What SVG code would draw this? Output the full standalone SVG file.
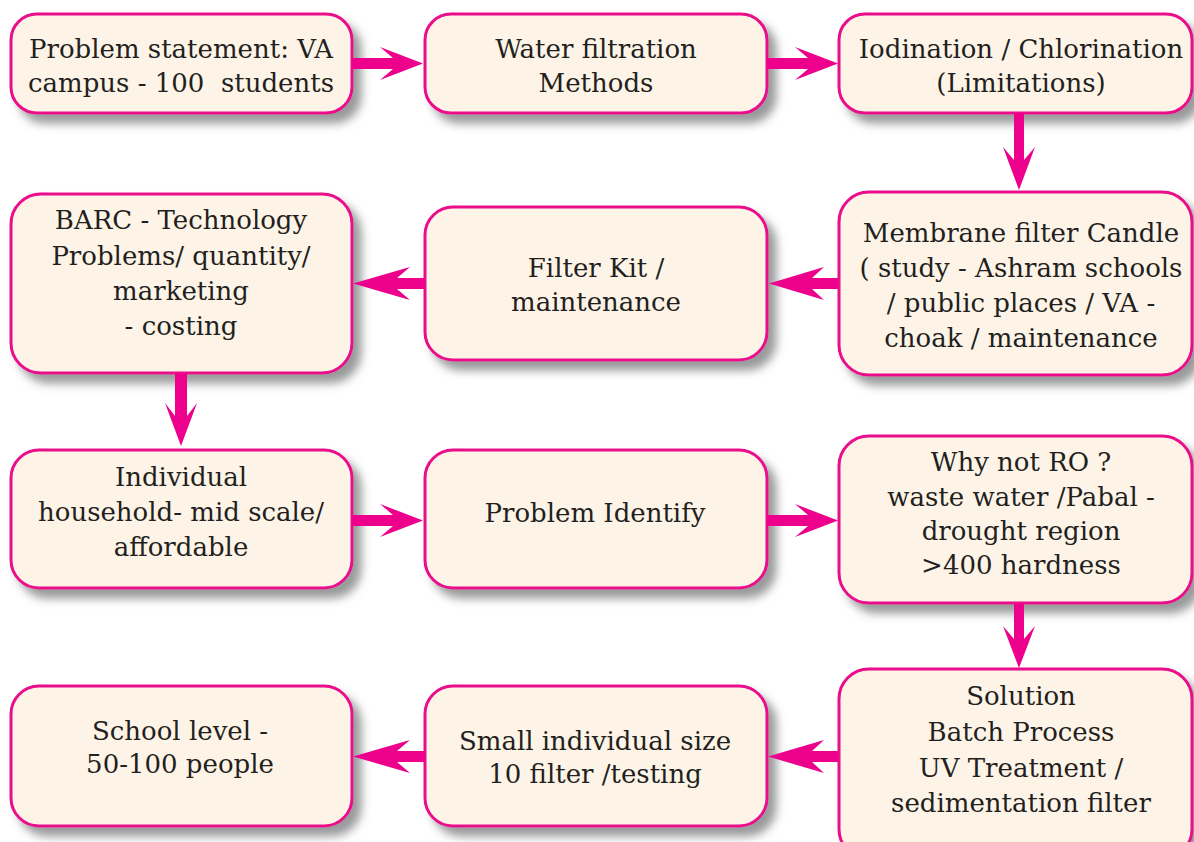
<svg xmlns="http://www.w3.org/2000/svg" width="1194" height="842" viewBox="0 0 1194 842">
<defs>
<filter id="sh" x="-10%" y="-10%" width="130%" height="140%">
<feDropShadow dx="8" dy="9" stdDeviation="5" flood-color="#6d6e71" flood-opacity="0.7"/>
</filter>
</defs>
<style>
.box{fill:#fdf4e7;stroke:#ea0a8c;stroke-width:3;filter:url(#sh)}
.t{font-family:"DejaVu Serif","Liberation Serif",serif;font-size:26px;fill:#231f20;text-anchor:middle}
.ar{fill:#ec008c}
</style>
<rect width="1194" height="842" fill="#ffffff"/>
<g id="n1"><rect class="box" x="11" y="14" width="341" height="99" rx="26"/>
<text class="t" x="181" y="58">Problem statement: VA</text>
<text class="t" x="181" y="92" xml:space="preserve">campus - 100  students</text></g>
<g id="n2"><rect class="box" x="425" y="14" width="342" height="99" rx="26"/>
<text class="t" x="596" y="58">Water filtration</text>
<text class="t" x="596" y="92">Methods</text></g>
<g id="n3"><rect class="box" x="839" y="14" width="353" height="99" rx="26"/>
<text class="t" x="1021" y="58">Iodination / Chlorination</text>
<text class="t" x="1021" y="92">(Limitations)</text></g>
<g id="n4"><rect class="box" x="839" y="192" width="353" height="183" rx="30"/>
<text class="t" x="1021" y="242">Membrane filter Candle</text>
<text class="t" x="1021" y="277">( study - Ashram schools</text>
<text class="t" x="1021" y="312">/ public places / VA -</text>
<text class="t" x="1021" y="347">choak / maintenance</text></g>
<g id="n5"><rect class="box" x="425" y="207" width="342" height="153" rx="28"/>
<text class="t" x="596" y="277">Filter Kit /</text>
<text class="t" x="596" y="311">maintenance</text></g>
<g id="n6"><rect class="box" x="11" y="194" width="341" height="179" rx="30"/>
<text class="t" x="181" y="229">BARC - Technology</text>
<text class="t" x="181" y="265">Problems/ quantity/</text>
<text class="t" x="181" y="300">marketing</text>
<text class="t" x="181" y="335">- costing</text></g>
<g id="n7"><rect class="box" x="11" y="450" width="341" height="138" rx="28"/>
<text class="t" x="181" y="486">Individual</text>
<text class="t" x="181" y="521">household- mid scale/</text>
<text class="t" x="181" y="556">affordable</text></g>
<g id="n8"><rect class="box" x="425" y="450" width="342" height="138" rx="28"/>
<text class="t" x="595" y="522">Problem Identify</text></g>
<g id="n9"><rect class="box" x="839" y="436" width="353" height="167" rx="30"/>
<text class="t" x="1021" y="471">Why not RO ?</text>
<text class="t" x="1021" y="506">waste water /Pabal -</text>
<text class="t" x="1021" y="540">drought region</text>
<text class="t" x="1021" y="574">&gt;400 hardness</text></g>
<g id="n10"><rect class="box" x="839" y="669" width="353" height="190" rx="30"/>
<text class="t" x="1021" y="705">Solution</text>
<text class="t" x="1021" y="741">Batch Process</text>
<text class="t" x="1021" y="777">UV Treatment /</text>
<text class="t" x="1021" y="812">sedimentation filter</text></g>
<g id="n11"><rect class="box" x="425" y="686" width="342" height="140" rx="28"/>
<text class="t" x="595" y="750">Small individual size</text>
<text class="t" x="595" y="783">10 filter /testing</text></g>
<g id="n12"><rect class="box" x="11" y="686" width="341" height="140" rx="28"/>
<text class="t" x="180" y="740">School level -</text>
<text class="t" x="180" y="773">50-100 people</text></g>
<g id="connectors">
<polygon class="ar" points="352,58 393,58 380,47 423,63.5 380,80 393,69 352,69"/>
<polygon class="ar" points="767,58 808,58 795,47 838,63.5 795,80 808,69 767,69"/>
<polygon class="ar" points="1014,113 1014,160 1003,147 1019,190 1035,147 1024,160 1024,113"/>
<polygon class="ar" points="838,278 812,278 824,267 769,283.5 824,300 812,289 838,289"/>
<polygon class="ar" points="425,278 397,278 410,267 353,283.5 410,300 397,289 425,289"/>
<polygon class="ar" points="175,373 175,416 165,403 181,446 197,403 187,416 187,373"/>
<polygon class="ar" points="352,515 393,515 380,504 423,520.5 380,537 393,526 352,526"/>
<polygon class="ar" points="767,515 808,515 795,504 838,520.5 795,537 808,526 767,526"/>
<polygon class="ar" points="1014,603 1014,639 1003,626 1019,668 1035,626 1024,639 1024,603"/>
<polygon class="ar" points="838,751 812,751 824,740 768,756.5 824,773 812,762 838,762"/>
<polygon class="ar" points="425,751 397,751 410,740 353,756.5 410,773 397,762 425,762"/>
</g>
</svg>
